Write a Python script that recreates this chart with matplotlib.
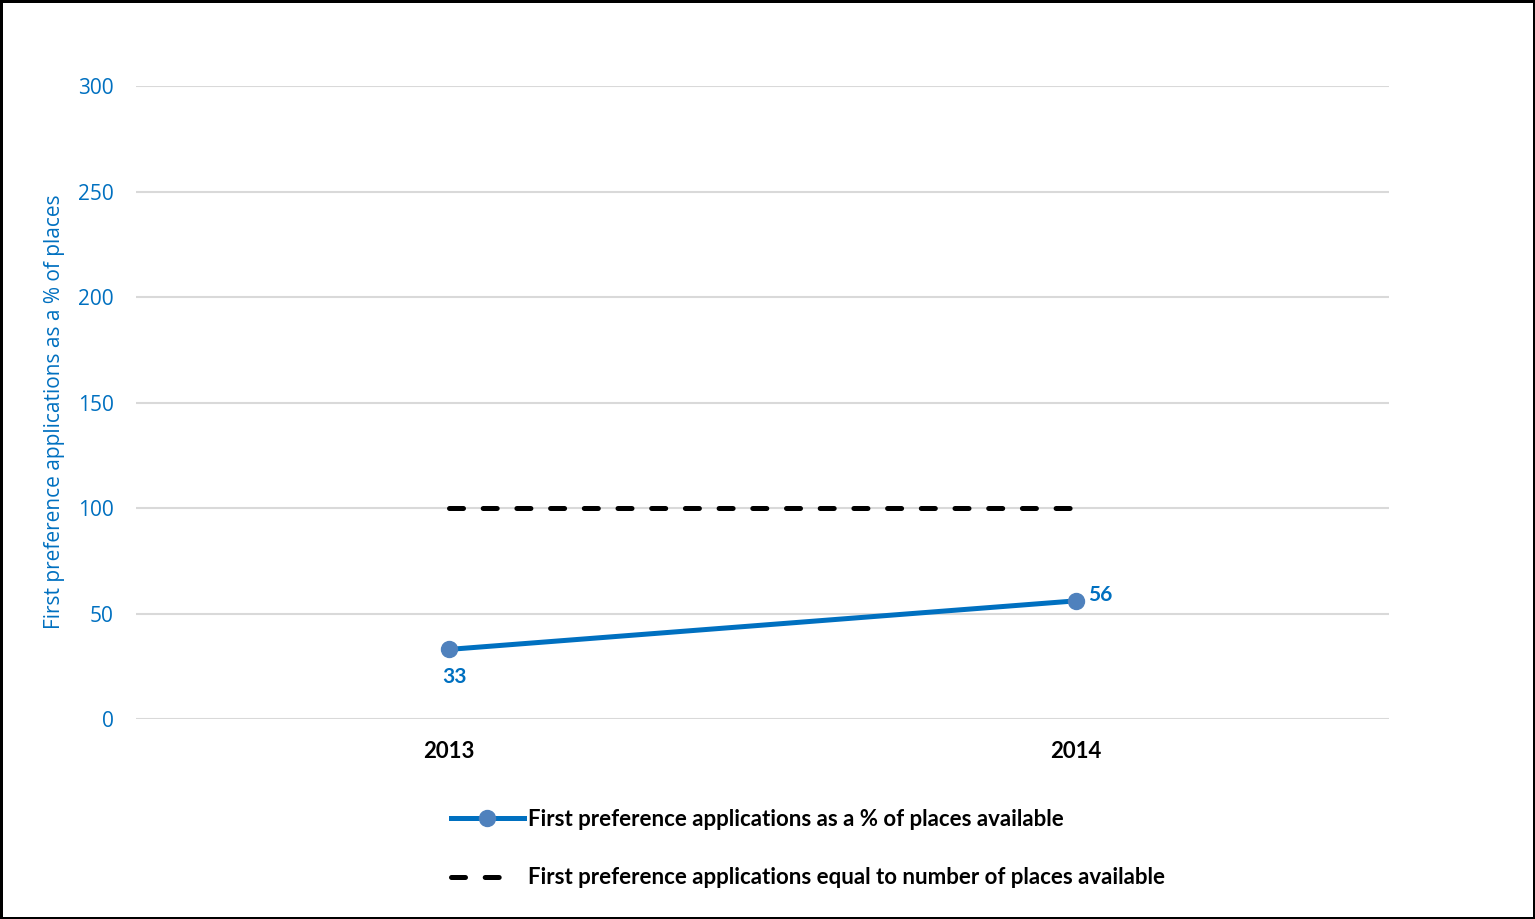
import matplotlib
matplotlib.use("Agg")
import matplotlib.pyplot as plt
from matplotlib.lines import Line2D

years = ["2013", "2014"]
pct_of_places = [33, 56]
equal_line = [100, 100]
y_ticks = [0, 50, 100, 150, 200, 250, 300]

blue = "#0070C0"
marker_blue = "#4F81BD"
bold_font = "Lato"

fig = plt.figure(figsize=(15.35, 9.19), dpi=100, edgecolor="black", linewidth=2.5)
ax = fig.add_axes([0.0886, 0.2176, 0.8163, 0.6888])

x = range(len(years))
ax.plot(x, pct_of_places, color=blue, linewidth=3.6, marker="o", markersize=11.5,
        markerfacecolor=marker_blue, markeredgecolor=marker_blue, zorder=3)
ax.plot(x, equal_line, color="black", linewidth=3.6, dashes=(2.8, 3.94),
        dash_capstyle="round", zorder=2)

# data labels
ax.annotate(str(pct_of_places[0]), (0, pct_of_places[0]), xytext=(4, -13), textcoords="offset points",
            ha="center", va="top", color=blue, fontsize=15, fontweight="bold", family=bold_font)
ax.annotate(str(pct_of_places[1]), (1, pct_of_places[1]), xytext=(9, -3), textcoords="offset points",
            ha="left", va="bottom", color=blue, fontsize=15, fontweight="bold", family=bold_font)

ax.set_xlim(-0.5, 1.5)
ax.set_ylim(0, 300)
ax.set_yticks(y_ticks)
ax.set_xticks(list(x))
ax.set_xticklabels(years, fontsize=16, fontweight="bold", family=bold_font)
ax.tick_params(axis="x", length=0, pad=16)
ax.tick_params(axis="y", length=0, pad=16, labelcolor=blue, labelsize=15)
for lab in ax.get_yticklabels():
    lab.set_family("Open Sans")

ax.grid(axis="y", color="#D9D9D9", linewidth=1.5)
ax.set_axisbelow(True)
for s in ax.spines.values():
    s.set_visible(False)

ax.set_ylabel("First preference applications as a % of places", color=blue, fontsize=15,
              family="Open Sans")
ax.yaxis.set_label_coords(-0.0565, 0.486)

handles = [
    Line2D([], [], color=blue, linewidth=3.6, marker="o", markersize=11.5,
           markerfacecolor=marker_blue, markeredgecolor=marker_blue),
    Line2D([], [], color="black", linewidth=3.6, dashes=(2.8, 3.94, 2.8, 10),
           dash_capstyle="round"),
]
labels = ["First preference applications as a % of places available",
          "First preference applications equal to number of places available"]
fig.legend(handles, labels, loc="upper left", bbox_to_anchor=(0.2805, 0.142), frameon=False,
           handlelength=3.3, handletextpad=0.2, labelspacing=1.7,
           prop={"family": bold_font, "weight": "bold", "size": 16})

fig.savefig("out.png", dpi=100, edgecolor=fig.get_edgecolor())
